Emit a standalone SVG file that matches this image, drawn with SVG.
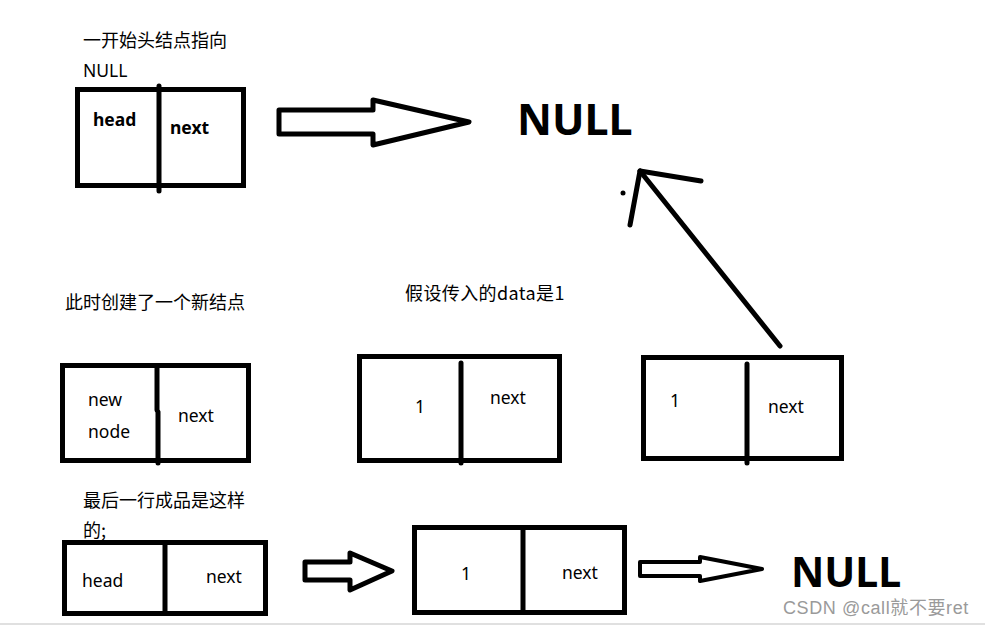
<svg xmlns="http://www.w3.org/2000/svg" width="985" height="627" viewBox="0 0 985 627">
<style>
.t{font-family:"Noto Sans","Noto Sans CJK SC",sans-serif;fill:#000;font-size:17.5px}
.cn{font-family:"Noto Sans CJK SC","Noto Sans",sans-serif;fill:#000;font-size:18px}
.b{font-weight:bold}
.box{fill:none;stroke:#000;stroke-width:5}
.div{stroke:#000;stroke-width:5;stroke-linecap:round}
.arr{fill:#fff;stroke:#000;stroke-width:5;stroke-linejoin:round}
.big{font-family:"Noto Sans","Open Sans",sans-serif;font-weight:bold;font-size:43px;fill:#000}
</style>
<rect width="985" height="627" fill="#fff"/>
<line x1="0" y1="624" x2="985" y2="624" stroke="#e0e0e0" stroke-width="2"/>

<text class="cn" x="83" y="47">一开始头结点指向</text>
<text class="t" x="83" y="77">NULL</text>
<text class="cn" x="65" y="309">此时创建了一个新结点</text>
<text class="cn" x="405" y="300" style="letter-spacing:0.4px">假设传入的data是1</text>
<text class="cn" x="83" y="507">最后一行成品是这样</text>
<text class="cn" x="83" y="537">的;</text>

<g id="node-head">
<rect class="box" x="77.5" y="89.5" width="166" height="96"/>
<line class="div" x1="159" y1="86" x2="159" y2="191"/>
<text class="t b" x="93" y="126">head</text>
<text class="t b" x="170" y="134">next</text>
</g>

<g id="null-top"><text class="big" x="517" y="135">NULL</text></g>

<g id="node-new">
<rect class="box" x="62.5" y="365.5" width="186" height="95"/>
<line class="div" x1="157" y1="366" x2="157" y2="410"/>
<line class="div" x1="158" y1="412" x2="158" y2="463"/>
<text class="t" x="88" y="406">new</text>
<text class="t" x="88" y="438">node</text>
<text class="t" x="178" y="422">next</text>
</g>

<g id="node-1a">
<rect class="box" x="359.5" y="356.5" width="200" height="104"/>
<line class="div" x1="461" y1="363" x2="461" y2="463"/>
<text class="t" x="415" y="413">1</text>
<text class="t" x="490" y="404">next</text>
</g>

<g id="node-1b">
<rect class="box" x="643.5" y="357.5" width="198" height="101"/>
<line class="div" x1="747" y1="364" x2="747" y2="463"/>
<text class="t" x="670" y="407">1</text>
<text class="t" x="768" y="413">next</text>
</g>

<g id="node-head2">
<rect class="box" x="64.5" y="542.5" width="201" height="71"/>
<line class="div" x1="165" y1="543" x2="165" y2="613"/>
<text class="t" x="82" y="587">head</text>
<text class="t" x="206" y="583">next</text>
</g>

<g id="node-1c">
<rect class="box" x="414.5" y="527.5" width="210" height="85"/>
<line class="div" x1="523" y1="528" x2="523" y2="612"/>
<text class="t" x="461" y="580">1</text>
<text class="t" x="562" y="579">next</text>
</g>

<g id="null-bottom"><text class="big" x="791" y="587" style="font-size:41px">NULL</text></g>

<g id="connectors">
<polygon class="arr" points="279,110 373,110 373,100 469,122 373,145 373,134 279,134"/>
<line class="div" x1="780" y1="346" x2="640" y2="171"/>
<polyline points="701,181 640,171 630,225" fill="none" stroke="#000" stroke-width="5" stroke-linecap="round" stroke-linejoin="round"/>
<circle cx="623" cy="193" r="2.5" fill="#000"/>
<polygon class="arr" points="305,562 350,562 350,553 392,571 350,590 350,580 305,580"/>
<polygon class="arr" points="640,562 700,562 700,557 762,569 700,581 700,576 640,576" style="stroke-width:4"/>
</g>

<text x="783" y="614" style="font-family:'Liberation Sans','Noto Sans CJK SC',sans-serif;font-size:18px;letter-spacing:0.6px;fill:#9a9a9a">CSDN @call就不要ret</text>
</svg>
